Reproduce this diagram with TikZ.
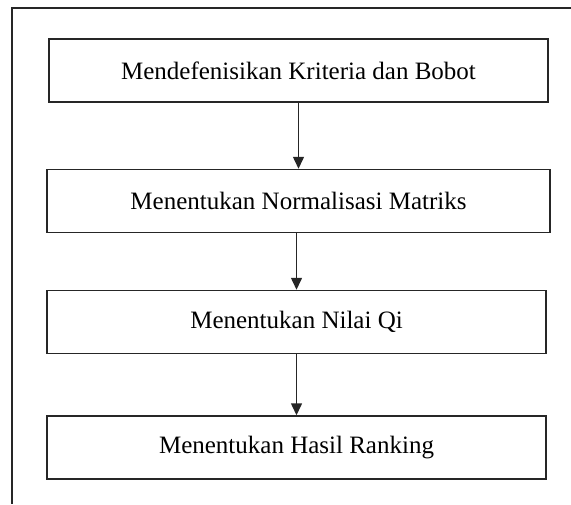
\documentclass[tikz,border=0pt]{standalone}
\usepackage{fontspec}
\setmainfont{Liberation Serif}
\usetikzlibrary{arrows.meta}
\begin{document}
\begin{tikzpicture}[x=0.5pt,y=-0.5pt,
  stepbox/.style={draw=black!85, line width=0.75pt, minimum height=31.5pt, inner sep=0pt,
    font=\fontsize{12.5}{15}\selectfont},
  flow/.style={draw=black!85, line width=0.75pt, -{Triangle[length=6pt,width=5.5pt]}},
  frame/.style={draw=black!85, line width=0.8pt}]
\useasboundingbox (0,0) rectangle (571,504);
\coordinate (ftr) at (571,8);
\coordinate (ftl) at (12,8);
\coordinate (fbl) at (12,504);
\draw[frame] (ftr) -- (ftl) -- (fbl);
\node[stepbox, minimum width=249.5pt] (b1) at (298.5,70.5) {Mendefenisikan Kriteria dan Bobot};
\node[stepbox, minimum width=251.5pt] (b2) at (298.5,201) {Menentukan Normalisasi Matriks};
\node[stepbox, minimum width=249.5pt] (b3) at (296.5,322) {Menentukan Nilai Qi};
\node[stepbox, minimum width=249.5pt] (b4) at (296.5,447.5) {Menentukan Hasil Ranking};
\draw[flow] (b1.south) -- (b2.north);
\draw[flow] (b3.north |- b2.south) -- (b3.north);
\draw[flow] (b3.south) -- (b4.north);
\end{tikzpicture}
\end{document}
